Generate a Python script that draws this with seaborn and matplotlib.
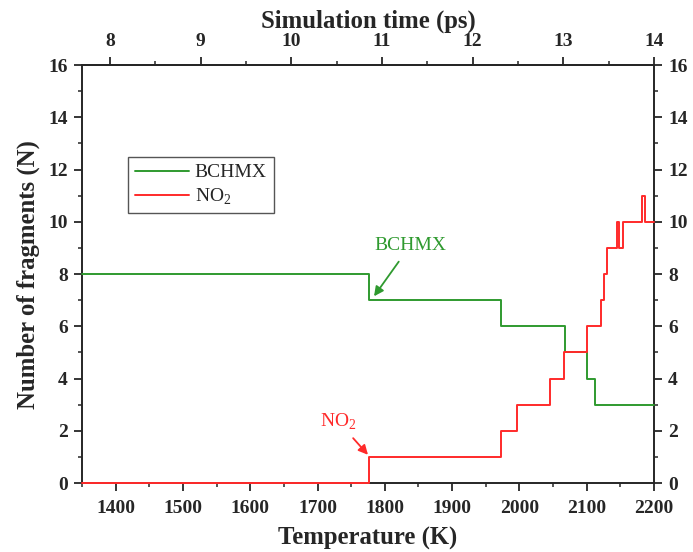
import matplotlib
matplotlib.use("Agg")
import matplotlib.pyplot as plt
import seaborn as sns
import pandas as pd
from matplotlib.ticker import MultipleLocator

# ---- data ----
bchmx_T = [1350, 1777, 1972, 2068, 2100, 2113, 2200]
bchmx_N = [8, 7, 6, 5, 4, 3, 3]
no2_T = [1350, 1777, 1972, 1996, 2046, 2067, 2100, 2121, 2125, 2130, 2145, 2148, 2154, 2182, 2186, 2200]
no2_N = [0, 1, 2, 3, 4, 5, 6, 7, 8, 9, 10, 9, 10, 11, 10, 10]
x_ticks = [1400, 1500, 1600, 1700, 1800, 1900, 2000, 2100, 2200]
y_ticks = [0, 2, 4, 6, 8, 10, 12, 14, 16]
time_ticks = [8, 9, 10, 11, 12, 13, 14]

sns.set_style("ticks")
plt.rcParams['font.family'] = ['Liberation Serif', 'DejaVu Serif']
plt.rcParams['mathtext.fontset'] = 'custom'
plt.rcParams['mathtext.rm'] = 'Liberation Serif'

GREEN = '#2f9a2f'
RED = '#ff2a2a'
LABEL_FS = 17.8
TICK_FS = 14

fig = plt.figure(figsize=(6.93, 5.52), dpi=100)
ax = fig.add_axes([0.1183, 0.125, 0.8254, 0.757])

df_b = pd.DataFrame({'T': bchmx_T, 'N': bchmx_N})
df_n = pd.DataFrame({'T': no2_T, 'N': no2_N})
sns.lineplot(data=df_b, x='T', y='N', ax=ax, color=GREEN, lw=1.4,
             drawstyle='steps-post', estimator=None, sort=False, label='BCHMX')
sns.lineplot(data=df_n, x='T', y='N', ax=ax, color=RED, lw=1.4,
             drawstyle='steps-post', estimator=None, sort=False,
             label=r'NO$_{\mathregular{2}}$')
for ln in ax.lines:
    ln.set_clip_on(False)
    ln.set_zorder(3)

ax.set_xlim(1350, 2200)
ax.set_ylim(0, 16)
ax.set_xticks(x_ticks)
ax.set_yticks(y_ticks)
ax.xaxis.set_minor_locator(MultipleLocator(50))
ax.yaxis.set_minor_locator(MultipleLocator(1))
ax.tick_params(axis='both', which='major', direction='out', length=5.8, width=1.3,
               labelsize=TICK_FS, right=True, labelright=True)
ax.tick_params(axis='x', which='major', pad=6.5)
ax.tick_params(axis='y', which='major', pad=4.3)
ax.tick_params(axis='both', which='minor', direction='out', length=3, width=1.1, right=True)
for lab in ax.get_xticklabels() + ax.yaxis.get_majorticklabels():
    lab.set_fontweight('bold')
for s in ax.spines.values():
    s.set_linewidth(1.4)
    s.set_visible(True)

ax.set_xlabel('Temperature (K)', fontsize=LABEL_FS, fontweight='bold', labelpad=7)
ax.set_ylabel('Number of fragments (N)', fontsize=LABEL_FS, fontweight='bold', labelpad=6)

def T2t(T):
    return 8 + (T - 1391.7) / 134.7

def t2T(t):
    return 1391.7 + (t - 8) * 134.7

sec = ax.secondary_xaxis('top', functions=(T2t, t2T))
sec.set_xticks(time_ticks)
sec.xaxis.set_minor_locator(MultipleLocator(0.5))
sec.tick_params(which='major', direction='out', length=5.8, width=1.3, labelsize=TICK_FS, pad=5)
sec.tick_params(which='minor', direction='out', length=3, width=1.1)
for lab in sec.get_xticklabels():
    lab.set_fontweight('bold')
sec.set_xlabel('Simulation time (ps)', fontsize=LABEL_FS, fontweight='bold', labelpad=4)
sec.spines['top'].set_linewidth(1.4)

# annotations
ax.annotate('BCHMX', xy=(1784, 7.15), xytext=(1838, 9.1), color=GREEN, fontsize=14,
            ha='center', va='center',
            arrowprops=dict(arrowstyle='-|>', color=GREEN, lw=1.3, shrinkA=4, shrinkB=0,
                            mutation_scale=14))
ax.annotate(r'NO$_{\mathregular{2}}$', xy=(1775, 1.08), xytext=(1731, 2.35), color=RED,
            fontsize=14, ha='center', va='center',
            arrowprops=dict(arrowstyle='-|>', color=RED, lw=1.3, shrinkA=3, shrinkB=0,
                            mutation_scale=14))

leg = ax.legend(loc='upper left', bbox_to_anchor=(0.08, 0.78), fontsize=14,
                frameon=True, fancybox=False, edgecolor='#555555', framealpha=1,
                handlelength=2.8, handletextpad=0.3, borderpad=0.35, labelspacing=0.25,
                borderaxespad=0)
leg.get_frame().set_linewidth(1.0)

fig.savefig('out.png', dpi=100)
